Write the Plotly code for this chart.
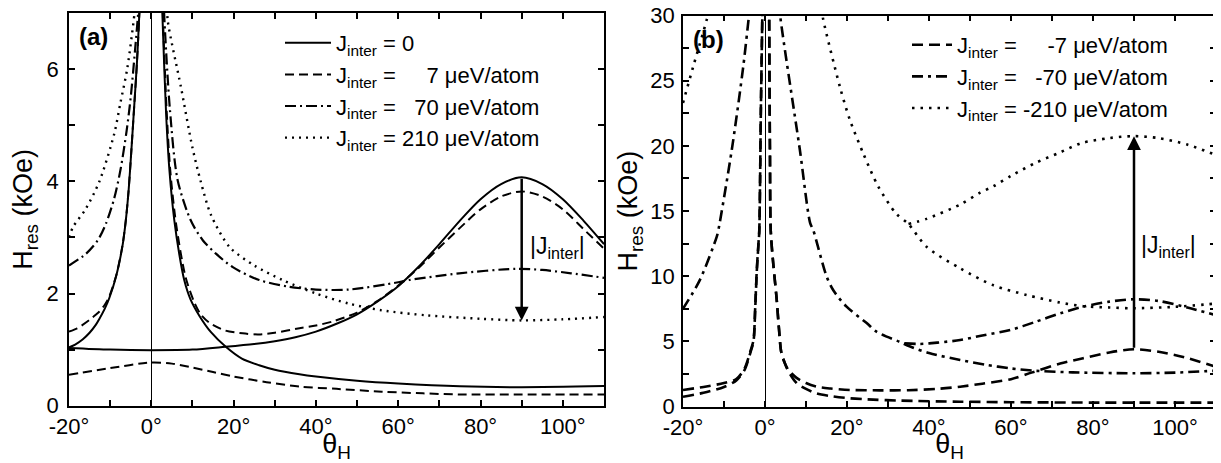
import plotly.graph_objects as go

# ---------------- Panel (a) data ----------------
a0_left_t = [-20, -18.5, -16.7, -15, -13.5, -12.6, -11.3, -10.2, -8.5, -7, -6.2, -5.5, -4.8, -4.1, -3.5, -2.9, -2.6]
a0_left_v = [1.04, 1.09, 1.18, 1.3, 1.44, 1.55, 1.73, 1.92, 2.32, 2.85, 3.3, 3.85, 4.6, 5.4, 6.1, 7.0, 7.6]
a0_right_t = [2.5, 2.75, 3.6, 4.4, 5.6, 6.8, 8.0, 9.5, 11.7, 14.5, 18.1, 22, 26.2, 30, 36, 40, 50, 60, 75, 90, 110]
a0_right_v = [7.5, 6.86, 5.2, 4.2, 3.3, 2.7, 2.24, 1.9, 1.6, 1.31, 1.05, 0.84, 0.72, 0.64, 0.56, 0.52, 0.445, 0.395, 0.345, 0.33, 0.35]
a0_up_t = [-20, -10, 0, 10, 18, 25, 30, 35, 40, 45, 50, 55, 60, 65, 70, 75, 80, 85, 90, 95, 100, 105, 110]
a0_up_v = [1.03, 1.0, 0.99, 1.0, 1.05, 1.1, 1.15, 1.22, 1.32, 1.46, 1.63, 1.86, 2.13, 2.48, 2.88, 3.3, 3.68, 3.95, 4.07, 3.95, 3.68, 3.3, 2.88]

a7_left_t = [-20, -18, -16.7, -15, -13.5, -12.6, -11.3, -10.2, -8.5, -7, -6.2, -5.5, -4.8, -4.1, -3.5, -2.9, -2.6]
a7_left_v = [1.32, 1.38, 1.44, 1.53, 1.62, 1.68, 1.8, 1.95, 2.33, 2.86, 3.3, 3.85, 4.6, 5.4, 6.1, 7.0, 7.6]
a7_right_t = [2.6, 2.85, 3.7, 4.6, 6.0, 8.3, 10.4, 12, 14.1, 18, 22.2, 26, 30, 36, 40, 44, 50, 55, 60, 65, 70, 75, 80, 85, 90, 95, 100, 105, 110]
a7_right_v = [7.5, 6.86, 5.3, 4.2, 3.25, 2.3, 1.85, 1.63, 1.48, 1.34, 1.29, 1.27, 1.3, 1.38, 1.43, 1.5, 1.66, 1.87, 2.14, 2.46, 2.82, 3.17, 3.5, 3.73, 3.82, 3.73, 3.5, 3.15, 2.8]
a7_low_t = [-20, -10, 0, 5, 10, 15, 20, 28, 36, 45, 56, 66, 75, 90, 110]
a7_low_v = [0.55, 0.67, 0.77, 0.75, 0.68, 0.6, 0.52, 0.42, 0.34, 0.3, 0.25, 0.22, 0.2, 0.2, 0.2]

a70_left_t = [-20, -16, -13, -11, -9, -7.5, -6, -5, -4, -3.2, -2.9]
a70_left_v = [2.5, 2.7, 2.95, 3.25, 3.7, 4.2, 4.9, 5.5, 6.3, 7.0, 7.4]
a70_right_t = [2.9, 3.2, 4.5, 6.4, 9.6, 12.5, 15.7, 19.8, 26.2, 33.5, 40, 48, 60, 62.7, 74.8, 88.6, 95, 102, 110]
a70_right_v = [7.4, 6.86, 5.3, 4.02, 3.3, 2.95, 2.71, 2.47, 2.24, 2.12, 2.07, 2.07, 2.2, 2.24, 2.36, 2.44, 2.42, 2.36, 2.28]

a210_left_t = [-20, -19, -16, -12.6, -9, -7.5, -5.8, -4.1, -3.8]
a210_left_v = [3.0, 3.19, 3.5, 4.0, 4.85, 5.4, 6.03, 6.98, 7.2]
a210_right_t = [3.8, 4.0, 7.2, 10, 12, 14.5, 19, 25, 31.9, 40, 48, 56, 67, 80, 90, 100, 110]
a210_right_v = [7.2, 6.86, 5.68, 4.6, 4.0, 3.4, 2.83, 2.5, 2.24, 2.0, 1.82, 1.7, 1.61, 1.55, 1.52, 1.54, 1.58]

# ---------------- Panel (b) data ----------------
b7_leftA_t = [-20, -15, -10, -7, -5, -3.5, -2.8, -2.4, -2.0, -1.6, -1.4, -1.0, -0.6]
b7_leftA_v = [1.27, 1.5, 1.8, 2.1, 2.9, 4.3, 5.1, 7.5, 10.5, 12.5, 13.5, 23, 31]
b7_leftB_t = [-20, -15, -10, -7, -5, -3.5, -2.8, -2.4, -2.0, -1.6, -1.4, -1.0, -0.6]
b7_leftB_v = [0.75, 1.05, 1.5, 2.0, 2.8, 4.2, 5.0, 7.4, 10.4, 12.4, 13.4, 22.9, 31]
b7_rightA_t = [1.0, 1.2, 1.4, 2.0, 2.8, 3.4, 4.0, 5.0, 5.7, 7.7, 10, 12.6, 16, 20.7, 28, 35, 42, 47.6, 53, 60, 65, 72, 77.6, 84, 90, 96, 102, 110]
b7_rightA_v = [31, 20, 13.5, 11, 8.4, 6, 4.1, 3.2, 2.8, 2.2, 1.8, 1.52, 1.38, 1.27, 1.24, 1.25, 1.35, 1.52, 1.75, 2.1, 2.6, 3.3, 3.7, 4.15, 4.39, 4.2, 3.8, 3.05]
b7_rightB_t = [1.0, 1.2, 1.4, 2.0, 2.8, 3.4, 4.0, 5.0, 5.7, 7.7, 10, 12.6, 16, 20.7, 25, 33, 47.6, 60, 80, 110]
b7_rightB_v = [31, 20, 13.5, 11, 8.4, 6, 4.1, 3.2, 2.7, 1.8, 1.35, 1.0, 0.8, 0.63, 0.55, 0.45, 0.37, 0.33, 0.3, 0.3]

b70_left_t = [-20, -15.9, -11.8, -11.4, -8.1, -5.3, -3.9, -3.5]
b70_left_v = [7.5, 9.7, 13.0, 13.5, 19.7, 26.1, 30, 31]
b70_right_t = [3.5, 3.7, 8.5, 11, 11.8, 15, 16.7, 19.9, 24.8, 27.2, 32.9, 35.4, 40, 47.6, 54, 59.8, 65.4, 75, 89.8, 100, 110]
b70_right_v = [31, 30, 19.7, 14.1, 13.5, 10, 8.9, 7.66, 6.4, 5.74, 4.95, 4.6, 4.1, 3.57, 3.2, 2.93, 2.75, 2.62, 2.55, 2.6, 2.75]
b70_up_t = [34, 37.8, 42, 47.6, 53, 59.8, 66, 72, 77.6, 84, 89.8, 96, 103, 110]
b70_up_v = [4.85, 4.8, 4.9, 5.1, 5.45, 5.87, 6.5, 7.15, 7.66, 8.05, 8.23, 8.1, 7.6, 7.0]

b210_left_t = [-20, -17.5, -14.2, -13.6]
b210_left_v = [23.3, 26.1, 29.7, 30.5]
b210_right_t = [13.8, 14.2, 18.3, 20.7, 24, 27.6, 32, 35, 39.4, 47.6, 55.7, 63.8, 72, 77.6, 84, 89.8, 100, 110]
b210_right_v = [30.5, 29.7, 24.5, 22, 19.4, 16.9, 14.8, 14.0, 12.26, 10.6, 9.3, 8.56, 7.97, 7.7, 7.6, 7.54, 7.65, 7.9]
b210_up_t = [35, 39.4, 47.6, 52.4, 55.7, 60, 66, 72, 77, 84, 89.8, 96, 103, 110]
b210_up_v = [14.0, 14.4, 15.5, 16.4, 16.9, 17.7, 18.7, 19.5, 20.2, 20.6, 20.75, 20.6, 20.1, 19.3]

# arrows: (theta, start value, end value)
arrow_a = (90, 4.07, 1.52)
arrow_b = (90, 4.39, 20.75)
arrow_label = "|J<sub>inter</sub>|"
arrow_label_a = (98.7, 2.82)
arrow_label_b = (98.4, 12.3)

# legend names
names_a = ["J<sub>inter</sub> = 0",
           "J<sub>inter</sub> =\u00a0\u00a0\u00a0\u00a0\u00a07 μeV/atom",
           "J<sub>inter</sub> =\u00a0\u00a0\u00a070 μeV/atom",
           "J<sub>inter</sub> = 210 μeV/atom"]
names_b = ["J<sub>inter</sub> =\u00a0\u00a0\u00a0\u00a0\u00a0-7 μeV/atom",
           "J<sub>inter</sub> =\u00a0\u00a0\u00a0-70 μeV/atom",
           "J<sub>inter</sub> = -210 μeV/atom"]

x_tickvals = [-20, -10, 0, 10, 20, 30, 40, 50, 60, 70, 80, 90, 100, 110]
x_ticktext = ["-20°", "", "0°", "", "20°", "", "40°", "", "60°", "", "80°", "", "100°", ""]
ya_tickvals = [0, 1, 2, 3, 4, 5, 6, 7]
ya_ticktext = ["0", "", "2", "", "4", "", "6", ""]
yb_tickvals = [0, 2.5, 5, 7.5, 10, 12.5, 15, 17.5, 20, 22.5, 25, 27.5, 30]
yb_ticktext = ["0", "", "5", "", "10", "", "15", "", "20", "", "25", "", "30"]

# page offset (the html body margin) and figure size
OFF = 8
W, H = 1221 - OFF, 463 - OFF


def px(x):
    return (x - OFF) / W


def py(y):
    return 1 - (y - OFF) / H


def join(*branches):
    xs, ys = [], []
    for t, v in branches:
        xs += list(t) + [None]
        ys += list(v) + [None]
    return xs, ys


FONT = "Liberation Sans, Arial, sans-serif"
fig = go.Figure()

styles_a = [dict(color="black", width=2, dash="solid"),
            dict(color="black", width=2, dash="9px,5px"),
            dict(color="black", width=2.2, dash="11px,4px,2px,4px"),
            dict(color="black", width=2.4, dash="2px,5px")]
series_a = [
    join((a0_left_t, a0_left_v), (a0_right_t, a0_right_v), (a0_up_t, a0_up_v)),
    join((a7_left_t, a7_left_v), (a7_right_t, a7_right_v), (a7_low_t, a7_low_v)),
    join((a70_left_t, a70_left_v), (a70_right_t, a70_right_v)),
    join((a210_left_t, a210_left_v), (a210_right_t, a210_right_v)),
]
for (xs, ys), st, nm in zip(series_a, styles_a, names_a):
    fig.add_trace(go.Scatter(x=xs, y=ys, mode="lines", line=dict(st, shape="spline", smoothing=0.8),
                             name=nm, xaxis="x", yaxis="y", legend="legend", connectgaps=False))

styles_b = [dict(color="black", width=2.6, dash="11px,6px"),
            dict(color="black", width=2.6, dash="11px,5px,3px,5px"),
            dict(color="black", width=2.6, dash="2.5px,6px")]
series_b = [
    join((b7_leftA_t, b7_leftA_v), (b7_leftB_t, b7_leftB_v), (b7_rightA_t, b7_rightA_v), (b7_rightB_t, b7_rightB_v)),
    join((b70_left_t, b70_left_v), (b70_right_t, b70_right_v), (b70_up_t, b70_up_v)),
    join((b210_left_t, b210_left_v), (b210_right_t, b210_right_v), (b210_up_t, b210_up_v)),
]
for (xs, ys), st, nm in zip(series_b, styles_b, names_b):
    fig.add_trace(go.Scatter(x=xs, y=ys, mode="lines", line=dict(st, shape="spline", smoothing=0.8),
                             name=nm, xaxis="x2", yaxis="y2", legend="legend2", connectgaps=False))

axis_common = dict(showline=True, linecolor="black", linewidth=1.5, mirror="ticks",
                   ticks="inside", ticklen=6, tickwidth=1.5, tickcolor="black",
                   showgrid=False, tickfont=dict(family=FONT, size=22, color="black"),
                   tickmode="array", automargin=False, ticklabeloverflow="allow")
xcommon = dict(axis_common, range=[-20, 110], tickvals=x_tickvals, ticktext=x_ticktext,
               zeroline=True, zerolinecolor="black", zerolinewidth=1.2,
               title=dict(text="θ<sub>H</sub>", font=dict(family=FONT, size=27, color="black"), standoff=8))

fig.update_layout(
    width=W, height=H, margin=dict(l=0, r=0, t=0, b=0, autoexpand=False),
    paper_bgcolor="white", plot_bgcolor="white",
    font=dict(family=FONT, color="black"),
    xaxis=dict(xcommon, domain=[px(69), px(604)], anchor="y"),
    yaxis=dict(axis_common, range=[0, 7], tickvals=ya_tickvals, ticktext=ya_ticktext,
               domain=[py(405.7), py(13)], anchor="x", zeroline=False,
               ticklabelstandoff=4,
               title=dict(text="H<sub>res</sub> (kOe)", font=dict(family=FONT, size=27, color="black"), standoff=6)),
    xaxis2=dict(xcommon, domain=[px(683), px(1216)], anchor="y2"),
    yaxis2=dict(axis_common, range=[0, 30], tickvals=yb_tickvals, ticktext=yb_ticktext,
                domain=[py(406.5), py(15.6)], anchor="x2", zeroline=False,
                ticklabelstandoff=2,
                title=dict(text="H<sub>res</sub> (kOe)", font=dict(family=FONT, size=27, color="black"), standoff=5)),
    legend=dict(x=px(280), y=py(22), xanchor="left", yanchor="top",
                font=dict(family=FONT, size=22, color="black"), bgcolor="rgba(0,0,0,0)",
                itemwidth=46, tracegroupgap=0, traceorder="normal"),
    legend2=dict(x=px(907), y=py(24), xanchor="left", yanchor="top",
                 font=dict(family=FONT, size=22, color="black"), bgcolor="rgba(0,0,0,0)",
                 itemwidth=40, tracegroupgap=0, traceorder="normal"),
    showlegend=True,
)

annotations = [
    dict(x=arrow_a[0], y=arrow_a[2], ax=arrow_a[0], ay=arrow_a[1], xref="x", yref="y",
         axref="x", ayref="y", text="", showarrow=True, arrowhead=2, arrowsize=1.1,
         arrowwidth=2.5, arrowcolor="black"),
    dict(x=arrow_b[0], y=arrow_b[2], ax=arrow_b[0], ay=arrow_b[1], xref="x2", yref="y2",
         axref="x2", ayref="y2", text="", showarrow=True, arrowhead=2, arrowsize=1.1,
         arrowwidth=2.5, arrowcolor="black"),
    dict(x=arrow_label_a[0], y=arrow_label_a[1], xref="x", yref="y", text=arrow_label,
         showarrow=False, font=dict(family=FONT, size=23, color="black")),
    dict(x=arrow_label_b[0], y=arrow_label_b[1], xref="x2", yref="y2", text=arrow_label,
         showarrow=False, font=dict(family=FONT, size=23, color="black")),
    dict(x=0.015, y=0.94, xref="x domain", yref="y domain", text="<b>(a)</b>",
         showarrow=False, xanchor="left", yanchor="middle", font=dict(family=FONT, size=24, color="black")),
    dict(x=0.015, y=0.94, xref="x2 domain", yref="y2 domain", text="<b>(b)</b>",
         showarrow=False, xanchor="left", yanchor="middle", font=dict(family=FONT, size=24, color="black")),
]
fig.update_layout(annotations=annotations)

fig.write_html("out.html")
